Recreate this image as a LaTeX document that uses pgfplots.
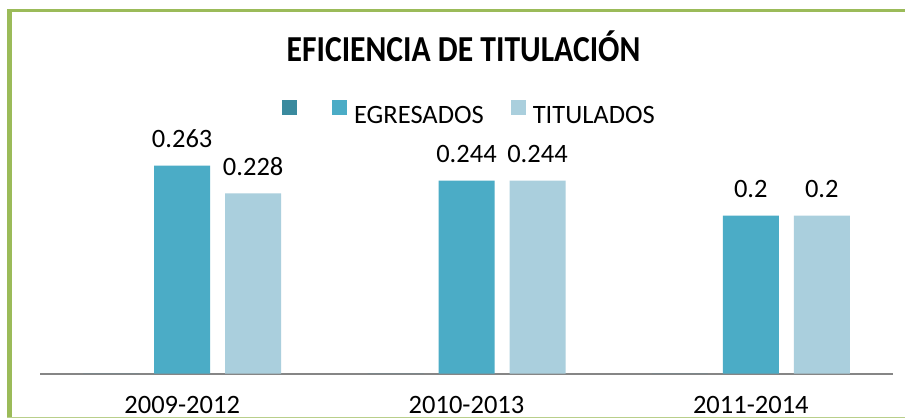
\documentclass[border=0pt]{standalone}
\usepackage{pgfplots}
\pgfplotsset{compat=1.18}
\usepackage{fontspec}
\setmainfont{Carlito}
\definecolor{serA}{HTML}{3A8A9E}
\definecolor{serB}{HTML}{4BACC6}
\definecolor{serC}{HTML}{AACFDD}
\definecolor{frame}{HTML}{9BBB59}
\definecolor{axgray}{HTML}{868686}
\begin{document}
\begin{tikzpicture}[x=1pt,y=1pt]
\useasboundingbox (0,0) rectangle (905,418);
\fill[white] (0,0) rectangle (905,418);
\fill[frame] (7,0) rectangle (12,409);
\fill[frame] (7,405.5) rectangle (905,409);
\fill[frame!70] (7,0) rectangle (905,1.3);
\node[anchor=base, font=\fontsize{31}{36}\selectfont\bfseries] at (463.5,356) {\scalebox{1.02}[1.18]{EFICIENCIA DE TITULACIÓN}};
\begin{axis}[
  at={(40pt,44.5pt)}, anchor=south west,
  scale only axis, width=853pt, height=237pt,
  xmin=-0.5, xmax=2.5, ymin=0, ymax=0.3,
  enlargelimits=false,
  axis x line*=bottom, axis y line=none,
  x axis line style={-, draw=axgray, line width=2pt},
  xtick={0,1,2}, xticklabels={2009-2012,2010-2013,2011-2014},
  major tick length=0pt,
  xticklabel style={anchor=base, yshift=-40pt, inner sep=0pt, font=\fontsize{26.5}{30}\selectfont},
  ytick=\empty,
  ybar=15pt, bar width=56pt,
  legend columns=3,
  legend style={at={(0.5023,1.101)}, anchor=center, draw=none, fill=none,
    font=\fontsize{26.5}{30}\selectfont,
    nodes={inner sep=0pt},
    /tikz/every odd column/.append style={column sep=7pt},
    /tikz/every even column/.append style={column sep=27pt}},
  legend image code/.code={\fill[#1] (0pt,0pt) rectangle (15pt,15pt);},
]
\addplot[fill=serA, draw=none] coordinates {(0,0) (1,0) (2,0)};
\addplot[fill=serB, draw=none, nodes near coords, point meta=explicit symbolic,
  nodes near coords style={anchor=base, yshift=18pt, inner sep=0pt, font=\fontsize{26.5}{30}\selectfont, text=black}]
  coordinates {(0,0.263) [0.263] (1,0.244) [0.244] (2,0.2) [0.2]};
\addplot[fill=serC, draw=none, nodes near coords, point meta=explicit symbolic,
  nodes near coords style={anchor=base, yshift=18pt, inner sep=0pt, font=\fontsize{26.5}{30}\selectfont, text=black}]
  coordinates {(0,0.228) [0.228] (1,0.244) [0.244] (2,0.2) [0.2]};
\legend{\hspace{0pt},EGRESADOS,TITULADOS}
\end{axis}
\end{tikzpicture}
\end{document}
